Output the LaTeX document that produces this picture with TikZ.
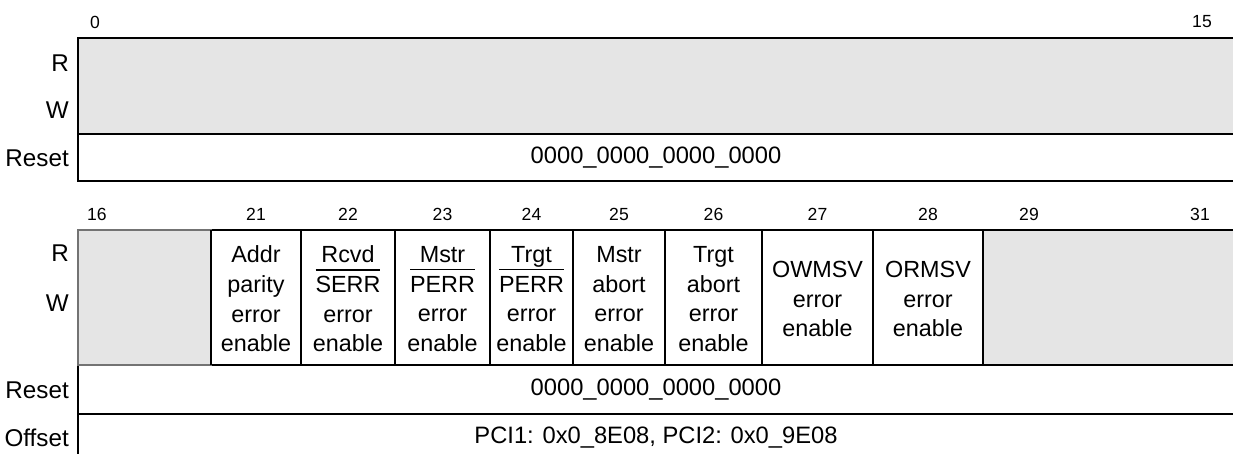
\documentclass[tikz,border=0pt]{standalone}
\usepackage{fontspec}
\setmainfont{Liberation Sans}
\usetikzlibrary{positioning}

% active-low signal name with a bar over it
\newlength\ovlwd
\newcommand{\ovl}[1]{\settowidth\ovlwd{#1}\rlap{\rule[12.4pt]{\ovlwd}{1pt}}#1}

\begin{document}
\begin{tikzpicture}[
  x=0.02cm, y=-0.02cm,
  field/.style={align=center, font=\fontsize{13.3}{16.9}\selectfont},
  rowlbl/.style={anchor=east, font=\fontsize{13.8}{15}\selectfont},
  bitno/.style={font=\fontsize{10}{11}\selectfont},
  value/.style={font=\fontsize{13.5}{15}\selectfont},
  rsvd/.style={fill=black!10},
  frame/.style={line width=1.1pt},
  sep/.style={line width=0.9pt}
]
\useasboundingbox (0,0) rectangle (1233,454);

% ---- bits 0..15
\fill[rsvd] (78,38) rectangle (1233,134);
\draw[frame] (1233,38) -- (78,38) -- (78,181) -- (1233,181);
\draw[frame] (78,134) -- (1233,134);

\node[bitno] (b0) at (95,22) {0};
\node[bitno] (b15) at (1202,22) {15};

\node[rowlbl] (r0) at (75,63) {R};
\node[rowlbl] (w0) at (75,110) {W};
\node[rowlbl] (rst0) at (75,158) {Reset};
\node[value] (v0) at (656,158) {0000\_0000\_0000\_0000};

% ---- bits 16..31
\fill[rsvd] (983,230) rectangle (1233,365);
\draw[frame] (211,230) -- (1233,230);
\draw[frame] (78,365) -- (1233,365);
\draw[frame] (78,414) -- (1233,414);
\draw[frame] (78,365) -- (78,454);
\draw[rsvd, draw=black!55, line width=0.6pt] (78,230) rectangle (211,365);

\foreach \xa/\xb/\bit/\txt in {
    211/301/21/{Addr\\parity\\error\\enable},
    301/395/22/{Rcvd\\\ovl{SERR}\\error\\enable},
    395/490/23/{Mstr\\\ovl{PERR}\\error\\enable},
    490/573/24/{Trgt\\\ovl{PERR}\\error\\enable},
    573/665/25/{Mstr\\abort\\error\\enable},
    665/762/26/{Trgt\\abort\\error\\enable},
    762/873/27/{OWMSV\\error\\enable},
    873/983/28/{ORMSV\\error\\enable}}
{
  \draw[sep] (\xa,230) -- (\xa,365);
  \node[field] (f\bit) at ({(\xa+\xb)/2},299) {\txt};
  \node[bitno] (b\bit) at ({(\xa+\xb)/2},214) {\bit};
}
\draw[sep] (983,230) -- (983,365);

\node[bitno] (b16) at (97,214) {16};
\node[bitno] (b29) at (1029,214) {29};
\node[bitno] (b31) at (1200,214) {31};

\node[rowlbl] (r1) at (75,253) {R};
\node[rowlbl] (w1) at (75,303) {W};
\node[rowlbl] (rst1) at (75,390) {Reset};
\node[rowlbl] (off1) at (75,438) {Offset};
\node[value] (v1) at (656,390) {0000\_0000\_0000\_0000};
\node[value] (v2) at (656,438) {PCI1: 0x0\_8E08, PCI2: 0x0\_9E08};
\end{tikzpicture}
\end{document}
